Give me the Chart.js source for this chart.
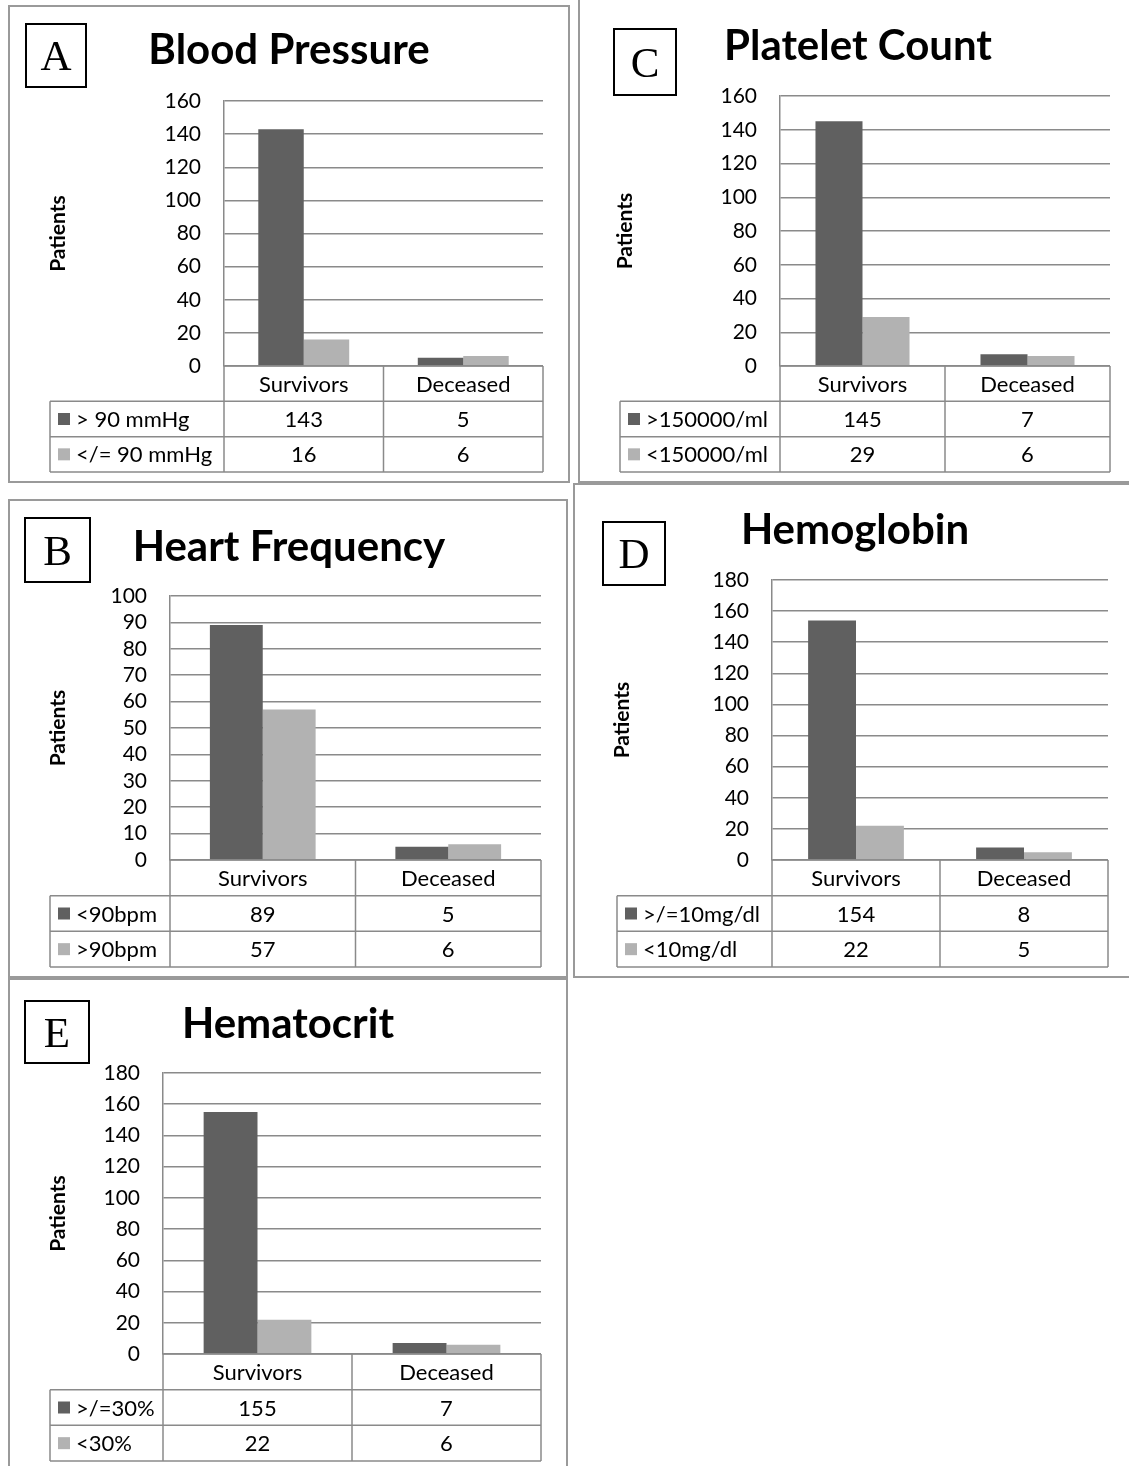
<!DOCTYPE html>
<html>
<head>
<meta charset="utf-8">
<script src="https://cdn.jsdelivr.net/npm/chart.js@4/dist/chart.umd.min.js"></script>
<style>
  body { margin: 0; background: #fff; }
  #page { position: relative; width: 1129px; height: 1466px; overflow: hidden; background: #fff; }
  .frame { position: absolute; border: 2px solid #9a9a9a; box-sizing: border-box; }
  .letter { position: absolute; border: 2px solid #000; box-sizing: border-box;
            font-family: "Liberation Serif", "DejaVu Serif", serif; font-size: 43px;
            display: flex; align-items: center; justify-content: center; color: #000; }
  .title { position: absolute; font-family: Lato, "Open Sans", sans-serif; font-weight: bold;
           font-size: 42px; color: #000; transform: translate(-50%, -50%); white-space: nowrap; }
</style>
</head>
<body>
<div id="page"></div>
<script>
// categories shared by every panel
const categories = ['Survivors', 'Deceased'];

// A - blood pressure
const bpLabels = ['> 90 mmHg', '</= 90 mmHg'];
const bpHigh = [143, 5];
const bpLow = [16, 6];

// B - heart frequency
const hfLabels = ['<90bpm', '>90bpm'];
const hfLow = [89, 5];
const hfHigh = [57, 6];

// C - platelet count
const pcLabels = ['>150000/ml', '<150000/ml'];
const pcHigh = [145, 7];
const pcLow = [29, 6];

// D - hemoglobin
const hbLabels = ['>/=10mg/dl', '<10mg/dl'];
const hbHigh = [154, 8];
const hbLow = [22, 5];

// E - hematocrit
const htLabels = ['>/=30%', '<30%'];
const htHigh = [155, 7];
const htLow = [22, 6];

const darkColor = '#606060';
const lightColor = '#b2b2b2';
const lineColor = '#8a8a8a';
const textFont = 'Lato, "Open Sans", sans-serif';

// layout for each panel (page pixels)
const panels = [
  { letter: 'A', title: 'Blood Pressure', names: bpLabels, series: [bpHigh, bpLow], yMax: 160, yStep: 20,
    rect: [8, 5, 562, 478], plot: [224, 101, 543, 366], tableBottom: 472, tableLeft: 50,
    box: [25, 23, 62, 65], titlePos: [289, 48], patientsX: 58 },
  { letter: 'C', title: 'Platelet Count', names: pcLabels, series: [pcHigh, pcLow], yMax: 160, yStep: 20,
    rect: [578, -2, 560, 485], plot: [780, 96, 1110, 366], tableBottom: 472, tableLeft: 620,
    box: [613, 28, 64, 68], titlePos: [858, 44], patientsX: 625 },
  { letter: 'B', title: 'Heart Frequency', names: hfLabels, series: [hfLow, hfHigh], yMax: 100, yStep: 10,
    rect: [8, 499, 560, 479], plot: [170, 596, 541, 860], tableBottom: 967, tableLeft: 50,
    box: [24, 517, 67, 66], titlePos: [289, 545], patientsX: 58 },
  { letter: 'D', title: 'Hemoglobin', names: hbLabels, series: [hbHigh, hbLow], yMax: 180, yStep: 20,
    rect: [573, 483, 560, 495], plot: [772, 580, 1108, 860], tableBottom: 967, tableLeft: 617,
    box: [602, 521, 64, 65], titlePos: [855, 528], patientsX: 622 },
  { letter: 'E', title: 'Hematocrit', names: htLabels, series: [htHigh, htLow], yMax: 180, yStep: 20,
    rect: [8, 978, 560, 500], plot: [163, 1073, 541, 1354], tableBottom: 1461, tableLeft: 50,
    box: [24, 1000, 66, 64], titlePos: [288, 1022], patientsX: 58 }
];

// draws the data table under the plot (category header + one row per series)
const dataTablePlugin = {
  id: 'dataTable',
  afterDraw(chart, args, opts) {
    const ctx = chart.ctx;
    const x = chart.scales.x;
    const n = chart.data.labels.length;
    const rows = chart.data.datasets.length + 1;
    const rowH = (x.bottom - x.top) / rows;
    const step = (x.right - x.left) / n;
    const left = opts.tableLeft;

    ctx.save();
    ctx.strokeStyle = lineColor;
    ctx.lineWidth = 1.5;
    ctx.beginPath();
    // horizontal lines
    ctx.moveTo(x.left, x.top); ctx.lineTo(x.right, x.top);
    for (let r = 1; r <= rows; r++) {
      const yy = x.top + r * rowH;
      ctx.moveTo(left, yy); ctx.lineTo(x.right, yy);
    }
    // vertical lines
    for (let c = 0; c <= n; c++) {
      const xx = x.left + c * step;
      ctx.moveTo(xx, x.top); ctx.lineTo(xx, x.bottom);
    }
    ctx.moveTo(left, x.top + rowH); ctx.lineTo(left, x.bottom);
    ctx.stroke();

    ctx.fillStyle = '#000';
    ctx.font = '22px ' + textFont;
    ctx.textBaseline = 'middle';
    ctx.textAlign = 'center';
    chart.data.labels.forEach((lab, i) => {
      ctx.fillText(lab, x.getPixelForValue(i), x.top + rowH / 2 + 1);
    });
    chart.data.datasets.forEach((ds, r) => {
      const cy = x.top + (r + 1.5) * rowH;
      ctx.fillStyle = ds.backgroundColor;
      ctx.fillRect(left + 8, cy - 6, 12, 12);
      ctx.fillStyle = '#000';
      ctx.textAlign = 'left';
      ctx.fillText(ds.label, left + 26, cy + 1);
      ctx.textAlign = 'center';
      ds.data.forEach((v, i) => ctx.fillText(String(v), x.getPixelForValue(i), cy + 1));
    });
    ctx.restore();
  }
};

const page = document.getElementById('page');

panels.forEach(p => {
  const [rx, ry, rw, rh] = p.rect;
  const [pl, pt, pr, pb] = p.plot;

  const frame = document.createElement('div');
  frame.className = 'frame';
  Object.assign(frame.style, { left: rx + 'px', top: ry + 'px', width: rw + 'px', height: rh + 'px' });
  page.appendChild(frame);

  const canvas = document.createElement('canvas');
  canvas.width = rw;
  canvas.height = rh;
  Object.assign(canvas.style, { position: 'absolute', left: rx + 'px', top: ry + 'px', width: rw + 'px', height: rh + 'px' });
  page.appendChild(canvas);

  const box = document.createElement('div');
  box.className = 'letter';
  box.textContent = p.letter;
  Object.assign(box.style, { left: p.box[0] + 'px', top: p.box[1] + 'px', width: p.box[2] + 'px', height: p.box[3] + 'px' });
  page.appendChild(box);

  const title = document.createElement('div');
  title.className = 'title';
  title.textContent = p.title;
  Object.assign(title.style, { left: p.titlePos[0] + 'px', top: p.titlePos[1] + 'px' });
  page.appendChild(title);

  const titleSize = 21;
  new Chart(canvas, {
    type: 'bar',
    data: {
      labels: categories,
      datasets: [
        { label: p.names[0], data: p.series[0], backgroundColor: darkColor },
        { label: p.names[1], data: p.series[1], backgroundColor: lightColor }
      ]
    },
    options: {
      responsive: false,
      animation: false,
      devicePixelRatio: 1,
      categoryPercentage: 0.57,
      barPercentage: 1.0,
      layout: { padding: { left: 0, top: pt - ry, right: rx + rw - pr, bottom: ry + rh - p.tableBottom } },
      plugins: {
        legend: { display: false },
        tooltip: { enabled: false },
        dataTable: { tableLeft: p.tableLeft - rx }
      },
      scales: {
        x: {
          grid: { display: false },
          border: { display: false },
          ticks: { display: false },
          afterFit(s) { s.height = p.tableBottom - pb; }
        },
        y: {
          min: 0,
          max: p.yMax,
          ticks: { stepSize: p.yStep, autoSkip: false, color: '#000', padding: 23, font: { family: textFont, size: 21 } },
          grid: { color: lineColor, lineWidth: 1.5, drawTicks: false },
          border: { color: lineColor, width: 1.5 },
          title: {
            display: true, text: 'Patients', color: '#000',
            font: { family: textFont, size: titleSize, weight: 'bold' },
            padding: { top: p.patientsX - rx - titleSize * 0.6, bottom: 0 }
          },
          afterFit(s) { s.width = pl - rx; }
        }
      }
    },
    plugins: [dataTablePlugin]
  });
});
</script>
</body>
</html>
